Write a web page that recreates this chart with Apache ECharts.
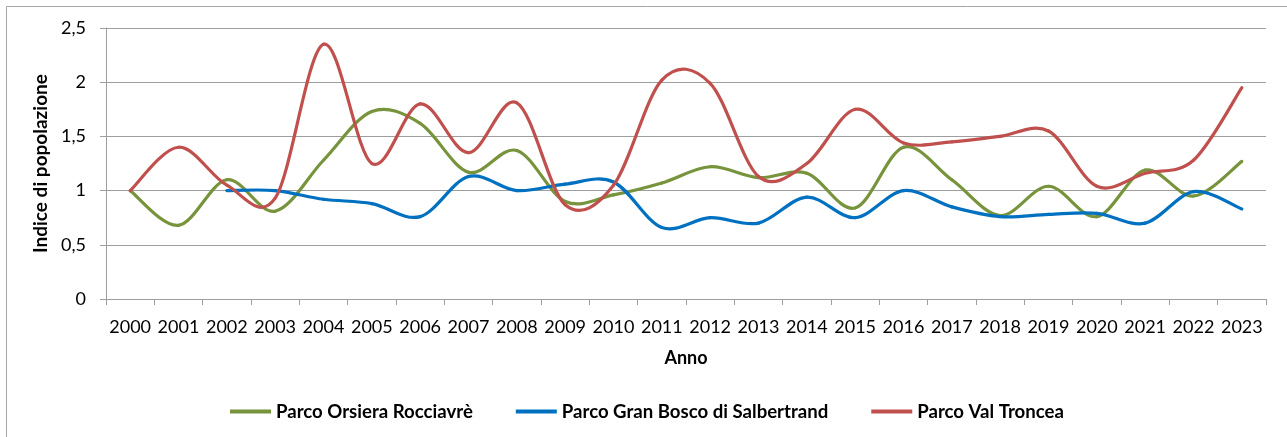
<!DOCTYPE html>
<html>
<head>
<meta charset="utf-8">
<script src="https://cdn.jsdelivr.net/npm/echarts@6/dist/echarts.min.js"></script>
<style>
  html, body { margin: 0; padding: 0; background: #ffffff; }
  #chart { width: 1287px; height: 437px; }
</style>
</head>
<body>
<div id="chart"></div>
<script>
// Anni di rilevamento
const years = ['2000','2001','2002','2003','2004','2005','2006','2007','2008','2009','2010','2011',
               '2012','2013','2014','2015','2016','2017','2018','2019','2020','2021','2022','2023'];

// Indice di popolazione per parco (base 2000 = 1; Gran Bosco parte dal 2002)
const orsiera = [1.00, 0.68, 1.10, 0.81, 1.28, 1.73, 1.62, 1.17, 1.37, 0.90, 0.96, 1.07,
                 1.22, 1.12, 1.16, 0.84, 1.40, 1.10, 0.77, 1.04, 0.76, 1.19, 0.95, 1.27];
const granBosco = [null, null, 1.00, 1.00, 0.92, 0.88, 0.76, 1.13, 1.00, 1.06, 1.08, 0.66,
                   0.75, 0.70, 0.94, 0.75, 1.00, 0.85, 0.76, 0.78, 0.79, 0.70, 0.99, 0.83];
const valTroncea = [1.00, 1.40, 1.05, 0.93, 2.35, 1.25, 1.80, 1.35, 1.81, 0.87, 1.05, 2.02,
                    1.99, 1.13, 1.25, 1.75, 1.44, 1.45, 1.50, 1.55, 1.04, 1.16, 1.28, 1.95];

// Tacche dell'asse verticale
const yTicks = { min: 0, max: 2.5, step: 0.5 };

const seriesNames = ['Parco Orsiera Rocciavrè', 'Parco Gran Bosco di Salbertrand', 'Parco Val Troncea'];
const seriesColors = ['#77933C', '#0070C0', '#C0504D'];
const seriesData = [orsiera, granBosco, valTroncea];

const FONT = 'Lato, "Open Sans", sans-serif';
const GRID_COLOR = '#9E9E9E';

// Curva levigata (Catmull-Rom in forma di Bézier): ogni elemento disegna il
// tratto dal proprio anno al successivo, usando gli anni vicini per le tangenti.
function makeSmoothSegment(values, color) {
  return function (params, api) {
    const k = params.dataIndex;
    const has = j => j >= 0 && j < values.length && values[j] != null;
    if (!has(k) || !has(k + 1)) return null;
    const pt = j => api.coord([j, values[j]]);
    const p1 = pt(k), p2 = pt(k + 1);
    const p0 = has(k - 1) ? pt(k - 1) : p1;
    const p3 = has(k + 2) ? pt(k + 2) : p2;
    const c1 = [p1[0] + (p2[0] - p0[0]) / 6, p1[1] + (p2[1] - p0[1]) / 6];
    const c2 = [p2[0] - (p3[0] - p1[0]) / 6, p2[1] - (p3[1] - p1[1]) / 6];
    return {
      type: 'bezierCurve',
      shape: { x1: p1[0], y1: p1[1], x2: p2[0], y2: p2[1],
               cpx1: c1[0], cpy1: c1[1], cpx2: c2[0], cpy2: c2[1] },
      style: { stroke: color, lineWidth: 3.2, fill: null, lineCap: 'round', lineJoin: 'round' },
      silent: true
    };
  };
}

const chart = echarts.init(document.getElementById('chart'), null, { renderer: 'canvas' });

chart.setOption({
  animation: false,
  backgroundColor: '#ffffff',
  textStyle: { fontFamily: FONT },
  graphic: [{
    type: 'rect',
    shape: { x: 6.5, y: 6.5, width: 1300, height: 460 },
    style: { fill: 'none', stroke: '#A6A6A6', lineWidth: 1 },
    silent: true,
    z: -1
  }],
  grid: { left: 106, right: 21, top: 28, bottom: 138 },
  legend: {
    left: 230,
    top: 402,
    padding: 0,
    itemGap: 43,
    itemWidth: 41,
    itemHeight: 4,
    icon: 'rect',
    textStyle: { fontFamily: FONT, fontWeight: 'bold', fontSize: 18.6, color: '#000000' },
    data: seriesNames
  },
  xAxis: {
    type: 'category',
    data: years,
    boundaryGap: true,
    name: 'Anno',
    nameLocation: 'middle',
    nameGap: 50,
    nameTextStyle: { fontFamily: FONT, fontWeight: 'bold', fontSize: 18, color: '#000000' },
    axisLine: { lineStyle: { color: GRID_COLOR, width: 1 } },
    axisTick: { show: true, length: 6, lineStyle: { color: GRID_COLOR } },
    axisLabel: { fontFamily: FONT, fontSize: 18, color: '#000000', margin: 19, interval: 0 },
    splitLine: { show: false }
  },
  yAxis: {
    type: 'value',
    min: yTicks.min,
    max: yTicks.max,
    interval: yTicks.step,
    name: 'Indice di popolazione',
    nameLocation: 'middle',
    nameRotate: 90,
    nameGap: 46,
    nameTextStyle: { fontFamily: FONT, fontWeight: 'bold', fontSize: 19, color: '#000000' },
    axisLine: { show: true, lineStyle: { color: GRID_COLOR, width: 1 } },
    axisTick: { show: true, length: 6, lineStyle: { color: GRID_COLOR } },
    axisLabel: {
      fontFamily: FONT, fontSize: 18, color: '#000000', margin: 20,
      formatter: v => String(v).replace('.', ',')
    },
    splitLine: { show: true, lineStyle: { color: GRID_COLOR, width: 1 } }
  },
  series: seriesNames.map((name, i) => ({
    name,
    type: 'custom',
    coordinateSystem: 'cartesian2d',
    data: seriesData[i].map((v, k) => [k, v == null ? '-' : v]),
    encode: { x: 0, y: 1 },
    renderItem: makeSmoothSegment(seriesData[i], seriesColors[i]),
    itemStyle: { color: seriesColors[i] },
    clip: false,
    z: 2 + i
  }))
});
</script>
</body>
</html>
